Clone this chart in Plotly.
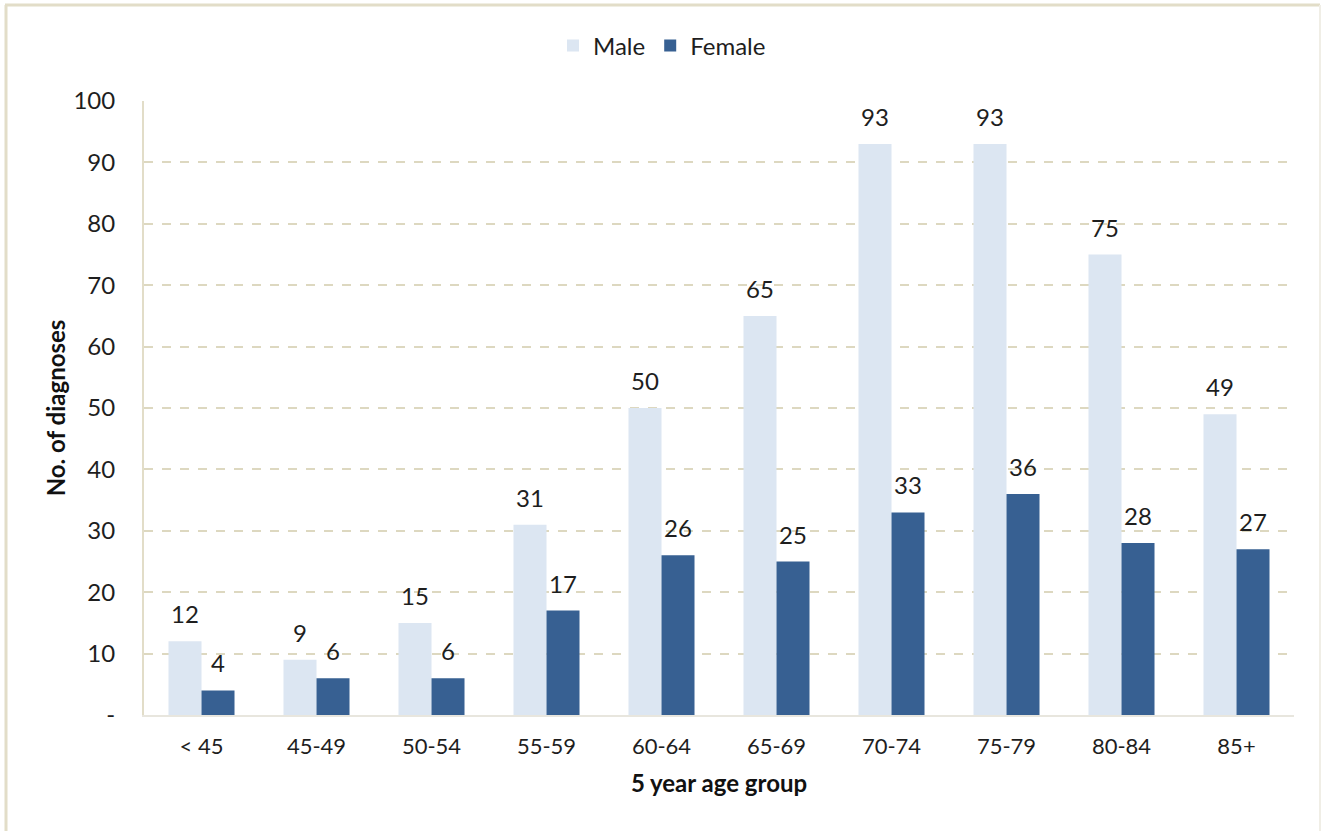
import plotly.graph_objects as go

# Diagnoses by 5-year age group
age_groups = ["< 45", "45-49", "50-54", "55-59", "60-64", "65-69", "70-74", "75-79", "80-84", "85+"]
male = [12, 9, 15, 31, 50, 65, 93, 93, 75, 49]
female = [4, 6, 6, 17, 26, 25, 33, 36, 28, 27]
y_tick_vals = [0, 10, 20, 30, 40, 50, 60, 70, 80, 90, 100]
y_tick_text = ["-", "10", "20", "30", "40", "50", "60", "70", "80", "90", "100"]

FONT = "Lato, 'Open Sans', sans-serif"
MALE_COLOR = "#dce6f2"
FEMALE_COLOR = "#376092"
GRID_COLOR = "#ddd8c0"
TEXT_COLOR = "#1e1e1e"

L, R, T, B = 144, 1294, 101, 715
W, H = R - L, B - T
BAR_HALF = 16.5  # half of one bar's width in pixels, for label placement

fig = go.Figure()
fig.add_trace(go.Bar(x=age_groups, y=male, name="Male",
                     marker=dict(color=MALE_COLOR, line=dict(width=0))))
fig.add_trace(go.Bar(x=age_groups, y=female, name="Female",
                     marker=dict(color=FEMALE_COLOR, line=dict(width=0))))

# Value labels above each bar
for series, shift in ((male, -BAR_HALF), (female, BAR_HALF)):
    for cat, val in zip(age_groups, series):
        fig.add_annotation(x=cat, y=val, text=str(val), showarrow=False,
                           xshift=shift, yshift=11, yanchor="bottom",
                           font=dict(family=FONT, size=24, color=TEXT_COLOR))

# Chart frame (left, top, right edges) drawn in paper coordinates
def px(x):
    return (x - L) / W
def py(y):
    return (B - y) / H

fig.add_shape(type="line", xref="paper", yref="paper",
              x0=px(6), x1=px(6), y0=py(835), y1=py(5),
              line=dict(color="#e2ddc8", width=3))
fig.add_shape(type="line", xref="paper", yref="paper",
              x0=px(5), x1=px(1320), y0=py(5), y1=py(5),
              line=dict(color="#e2ddc8", width=3))
fig.add_shape(type="line", xref="paper", yref="paper",
              x0=px(1320), x1=px(1320), y0=py(5), y1=py(835),
              line=dict(color="#f0eee6", width=2))

fig.update_layout(
    width=1322, height=831,
    margin=dict(l=L, r=1322 - R, t=T, b=831 - B, autoexpand=False),
    paper_bgcolor="white", plot_bgcolor="white",
    barmode="group", bargap=0.426, bargroupgap=0,
    font=dict(family=FONT, size=22, color=TEXT_COLOR),
    legend=dict(orientation="h", x=px(662), xanchor="center", y=py(46), yanchor="middle",
                font=dict(family=FONT, size=24, color=TEXT_COLOR),
                itemwidth=30, traceorder="normal"),
    xaxis=dict(
        automargin=False,
        showline=True, linecolor="#e8e6de", linewidth=2,
        ticks="", tickfont=dict(family=FONT, size=22, color=TEXT_COLOR),
        ticklabelstandoff=11,
        title=dict(text="<b>5 year age group</b>", font=dict(family=FONT, size=24, color="#111111"),
                   standoff=17),
    ),
    yaxis=dict(
        automargin=False,
        range=[0, 100], tickvals=y_tick_vals, ticktext=y_tick_text,
        showline=True, linecolor="#e2ddc8", linewidth=2,
        showgrid=True, gridcolor=GRID_COLOR, griddash="dash", gridwidth=2,
        zeroline=False, ticks="",
        tickfont=dict(family=FONT, size=24, color=TEXT_COLOR),
        ticklabelstandoff=22,
        title=dict(text="<b>No. of diagnoses</b>", font=dict(family=FONT, size=24, color="#111111"),
                   standoff=1),
    ),
)

fig.write_html("out.html")
